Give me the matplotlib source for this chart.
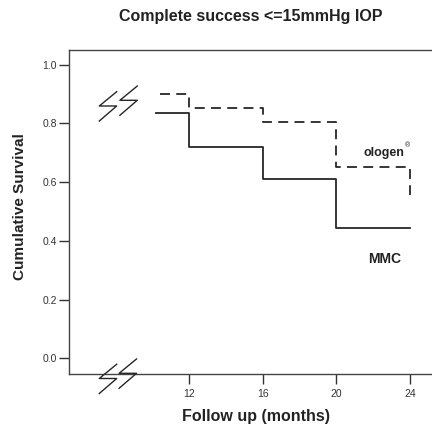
import matplotlib
matplotlib.use("Agg")
import matplotlib.pyplot as plt
from matplotlib.lines import Line2D

plt.rcParams['font.family'] = ['Liberation Sans', 'DejaVu Sans']

# Data
months_mmc = [10.2, 12, 16, 20, 24]
surv_mmc = [0.836, 0.72, 0.61, 0.445, 0.445]
months_ologen = [10.4, 12, 16, 20, 24]
surv_ologen = [0.90, 0.853, 0.806, 0.653, 0.556]
xticks = [12, 16, 20, 24]
yticks = [0.0, 0.2, 0.4, 0.6, 0.8, 1.0]

W, H = 432, 428
fig = plt.figure(figsize=(W/100, H/100), dpi=100)
ax = fig.add_axes([69/W, 1-374/H, 1-69/W, (374-50)/H])

line_col = '#262626'
ax.plot(months_mmc, surv_mmc, drawstyle='steps-post', color=line_col, lw=1.3)
ax.plot(months_ologen, surv_ologen, drawstyle='steps-post', color=line_col, lw=1.3,
        dashes=(5.5, 3.5))

ax.set_xlim(5.46, 25.2)
ax.set_ylim(-0.053, 1.05)
ax.set_xticks(xticks)
ax.set_yticks(yticks)
ax.set_yticklabels([f"{v:.1f}" for v in yticks])
ax.tick_params(axis='both', direction='out', length=7, width=1, color='#333333',
               labelsize=7.5, labelcolor='#333333')
ax.tick_params(axis='y', pad=1.5)
ax.tick_params(axis='x', pad=3.5)
for s in ['left', 'bottom', 'top']:
    ax.spines[s].set_color('#444444')
    ax.spines[s].set_linewidth(1.0)
ax.spines['right'].set_visible(False)

ax.set_xlabel('Follow up (months)', fontsize=11.5, fontweight='bold', color='#222222')
ax.xaxis.set_label_coords((256-69)/(W-69), -(409-374)/(374-50))
ax.set_ylabel('Cumulative Survival', fontsize=11, fontweight='bold', color='#222222')
ax.yaxis.set_label_coords(-(69-27)/(W-69), (374-207)/(374-50))
fig.text(251/W, 1-16/H, 'Complete success <=15mmHg IOP', ha='center', va='center',
         fontsize=11.5, fontweight='bold', color='#222222')

ax.text(23.7, 0.70, 'ologen', ha='right', va='center', fontsize=9, fontweight='bold', color='#222222')
ax.text(23.75, 0.725, '®', ha='left', va='center', fontsize=5, color='#222222')
ax.text(22.6, 0.338, 'MMC', ha='center', va='center', fontsize=10, fontweight='bold', color='#222222')

# axis break symbols
bolt = [(0, 0), (-17.4, 14.3), (0, 14.3), (-17.4, 29.3)]
def draw_bolt(x0, y0):
    xs = [(x0 + dx)/W for dx, dy in bolt]
    ys = [1 - (y0 + dy)/H for dx, dy in bolt]
    fig.add_artist(Line2D(xs, ys, transform=fig.transFigure, color=line_col, lw=1.0))
for x0, y0 in [(116.7, 91.7), (137.3, 86.0), (116.7, 364.2), (136.5, 359.0)]:
    draw_bolt(x0, y0)

fig.savefig('out.png', dpi=100, facecolor='white')
